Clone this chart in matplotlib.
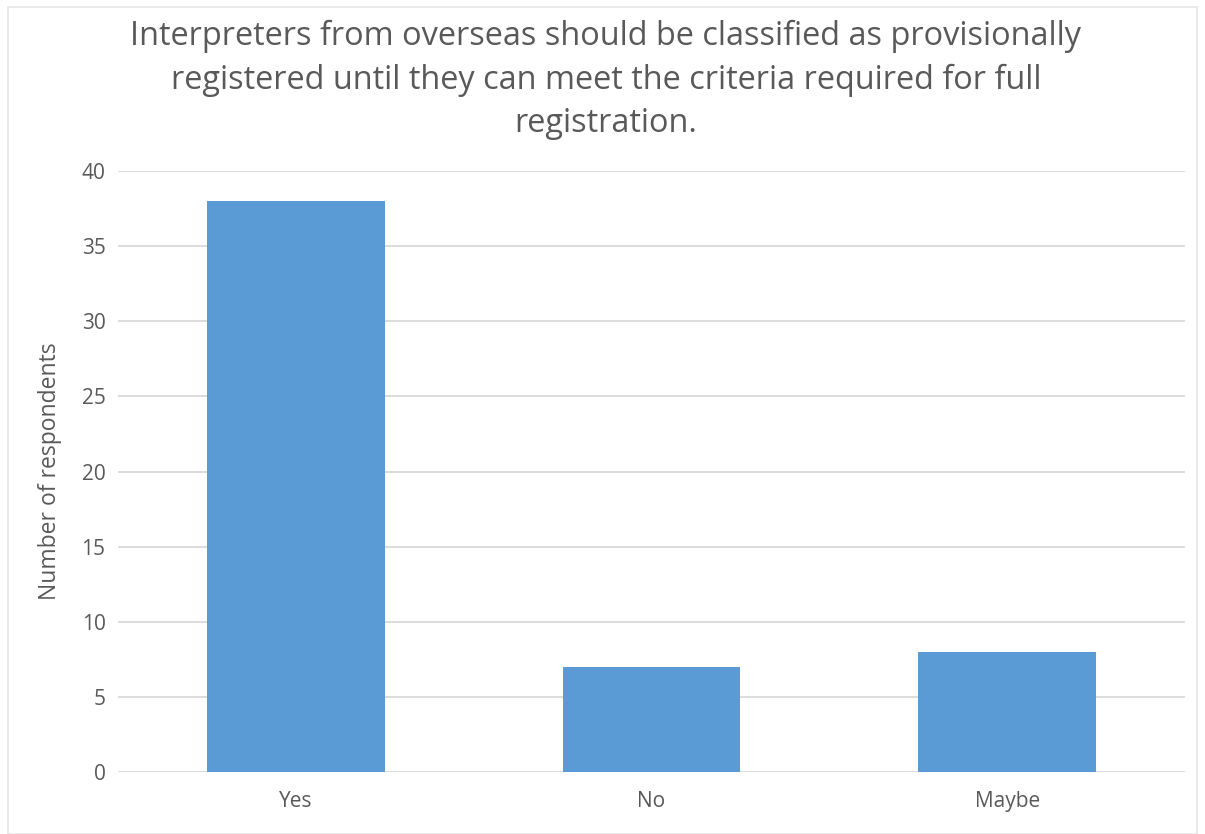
import matplotlib
matplotlib.use("Agg")
import matplotlib.pyplot as plt
from matplotlib.patches import Rectangle

categories = ["Yes", "No", "Maybe"]
respondents = [38, 7, 8]
y_ticks = [0, 5, 10, 15, 20, 25, 30, 35, 40]

title = ("Interpreters from overseas should be classified as provisionally\n"
         "registered until they can meet the criteria required for full\n"
         "registration.")

plt.rcParams["font.family"] = ["Open Sans", "DejaVu Sans"]
text_color = "#595959"
grid_color = "#D9D9D9"
bar_color = "#5B9BD5"

W, H = 1205, 834
fig = plt.figure(figsize=(W / 100, H / 100), dpi=100)
fig.patches.append(Rectangle((8 / W, 0), (1197 - 8) / W, 1 - 7 / H,
                             transform=fig.transFigure, fill=False,
                             edgecolor="#E6E6E6", linewidth=1.2))

ax = fig.add_axes([118 / W, 1 - 772 / H, (1185 - 118) / W, (772 - 171) / H])
x = range(len(categories))
ax.bar(x, respondents, width=0.5, color=bar_color, zorder=3)
ax.set_xlim(-0.5, len(categories) - 0.5)
ax.set_ylim(0, 40)
ax.set_yticks(y_ticks)
ax.set_xticks(list(x))
ax.set_xticklabels(categories)
ax.yaxis.grid(True, color=grid_color, linewidth=1.3, zorder=0)
ax.set_axisbelow(True)
for s in ax.spines.values():
    s.set_visible(False)
ax.tick_params(axis="both", length=0, colors=text_color, labelsize=15)
ax.tick_params(axis="y", pad=9)
ax.tick_params(axis="x", pad=14)

fig.text(50 / W, 1 - 471 / H, "Number of respondents", rotation=90,
         ha="center", va="center", color=text_color, fontsize=16.5)

fig.text(606 / W, 1 - 80 / H, title, ha="center", va="center", color=text_color,
         fontsize=23.4, linespacing=1.42)

fig.savefig("out.png", dpi=100, facecolor="white")
